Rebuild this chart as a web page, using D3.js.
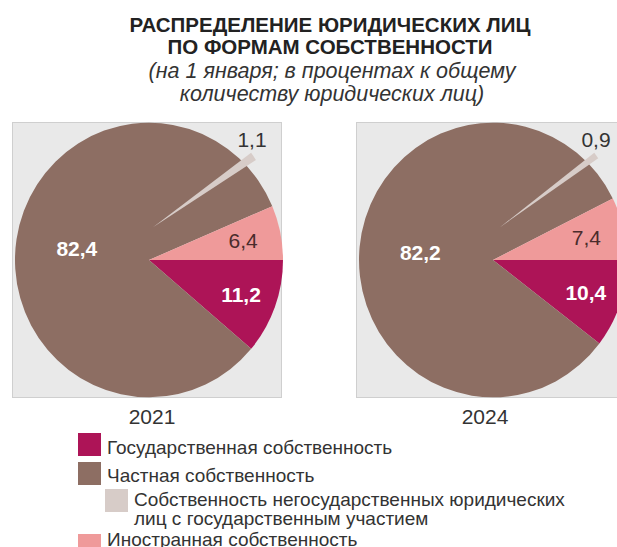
<!DOCTYPE html>
<html>
<head>
<meta charset="utf-8">
<script src="https://cdn.jsdelivr.net/npm/d3@7"></script>
<style>
  body { margin: 0; background: #fff; }
  svg { font-family: "Liberation Sans", Arial, sans-serif; display: block; }
</style>
</head>
<body>
<svg id="chart" width="617" height="547"></svg>
<script>
// data
var years = ["2021", "2024"];
var categories = ["Государственная собственность", "Частная собственность", "Иностранная собственность"];
var values2021 = [11.2, 82.4, 6.4];
var values2024 = [10.4, 82.2, 7.4];
var mixed = [1.1, 0.9]; // собственность негосударственных юр. лиц с гос. участием
var legendLabels = [
    ["Государственная собственность"],
    ["Частная собственность"],
    ["Собственность негосударственных юридических", "лиц с государственным участием"],
    ["Иностранная собственность"]
];

var colors = ["#ad1457", "#8d6e63", "#ef9a9a"];
var mixedColor = "#d7ccc8";

var svg = d3.select("#chart");

// title
svg.append("text").attr("x", 330).attr("y", 32).attr("text-anchor", "middle")
    .attr("font-size", 20.5).attr("font-weight", "bold").attr("fill", "#222")
    .text("РАСПРЕДЕЛЕНИЕ ЮРИДИЧЕСКИХ ЛИЦ");
svg.append("text").attr("x", 330).attr("y", 54).attr("text-anchor", "middle")
    .attr("font-size", 20.5).attr("font-weight", "bold").attr("fill", "#222")
    .text("ПО ФОРМАМ СОБСТВЕННОСТИ");
svg.append("text").attr("x", 332).attr("y", 78).attr("text-anchor", "middle")
    .attr("font-size", 21.5).attr("font-style", "italic").attr("fill", "#333")
    .text("(на 1 января; в процентах к общему");
svg.append("text").attr("x", 332).attr("y", 101).attr("text-anchor", "middle")
    .attr("font-size", 21.5).attr("font-style", "italic").attr("fill", "#333")
    .text("количеству юридических лиц)");

var panels = [
    { year: years[0], values: values2021, mixed: mixed[0], cx: 149, cy: 260, box: [12, 122, 269, 275], yearX: 152, wedge: { dx: 4, dy: -32, angle: 55.5, r: 122 } },
    { year: years[1], values: values2024, mixed: mixed[1], cx: 493, cy: 260, box: [356, 122, 290, 275], yearX: 485, wedge: { dx: 7, dy: -32, angle: 54, r: 119 } }
];

var radius = 134;
var angle = d3.scaleLinear().domain([0, 100]).range([0, 2 * Math.PI]);

var pie = d3.pie().sort(null)
    .startAngle(Math.PI / 2)
    .endAngle(Math.PI / 2 + 2 * Math.PI);

var arc = d3.arc().innerRadius(0).outerRadius(radius);
var labelR = [98, 73, 96];

panels.forEach(function (p) {

    svg.append("rect")
        .attr("x", p.box[0] + 0.5).attr("y", p.box[1] + 0.5)
        .attr("width", p.box[2]).attr("height", p.box[3])
        .attr("fill", "#e9e9e9").attr("stroke", "#cfcfcf");

    var g = svg.append("g")
        .attr("transform", "translate(" + p.cx + "," + p.cy + ") scale(1,1.025)");

    var arcs = pie(p.values);

    g.selectAll("path.slice")
        .data(arcs)
        .enter().append("path")
        .attr("class", "slice")
        .attr("d", arc)
        .attr("fill", function (d, i) { return colors[i]; });

    // thin exploded wedge for mixed ownership
    var mid = p.wedge.angle * Math.PI / 180;
    var half = angle(p.mixed) / 2;
    g.append("path")
        .attr("transform", "translate(" + p.wedge.dx + "," + p.wedge.dy + ")")
        .attr("d", d3.arc().innerRadius(0).outerRadius(p.wedge.r)({ startAngle: mid - half, endAngle: mid + half }))
        .attr("fill", mixedColor);

    // value labels
    arcs.forEach(function (d, i) {
        var a = (d.startAngle + d.endAngle) / 2;
        var x = p.cx + Math.sin(a) * labelR[i];
        var y = p.cy - Math.cos(a) * labelR[i] * 1.025;
        svg.append("text")
            .attr("x", x).attr("y", y).attr("dy", "0.35em")
            .attr("text-anchor", "middle")
            .attr("font-size", 21)
            .attr("font-weight", i == 2 ? "normal" : "bold")
            .attr("fill", i == 2 ? "#4a2c2c" : "#fff")
            .text(String(d.data).replace(".", ","));
    });

    svg.append("text")
        .attr("x", p.cx + 103).attr("y", p.cy - 113)
        .attr("text-anchor", "middle")
        .attr("font-size", 21).attr("fill", "#333")
        .text(String(p.mixed).replace(".", ","));

    svg.append("text")
        .attr("x", p.yearX).attr("y", 424)
        .attr("text-anchor", "middle")
        .attr("font-size", 21).attr("fill", "#333")
        .text(p.year);
});

// legend
var legendItems = [
    { color: colors[0], x: 78, y: 433, lines: legendLabels[0], base: 454 },
    { color: colors[1], x: 78, y: 462, lines: legendLabels[1], base: 482 },
    { color: mixedColor, x: 105, y: 489, lines: legendLabels[2], base: 506 },
    { color: colors[2], x: 78, y: 534, lines: legendLabels[3], base: 546 }
];

legendItems.forEach(function (item) {
    svg.append("rect")
        .attr("x", item.x).attr("y", item.y)
        .attr("width", 23).attr("height", 23)
        .attr("fill", item.color);
    item.lines.forEach(function (line, j) {
        svg.append("text")
            .attr("x", item.x + 29).attr("y", item.base + j * 19)
            .attr("font-size", 19).attr("fill", "#333")
            .text(line);
    });
});
</script>
</body>
</html>
